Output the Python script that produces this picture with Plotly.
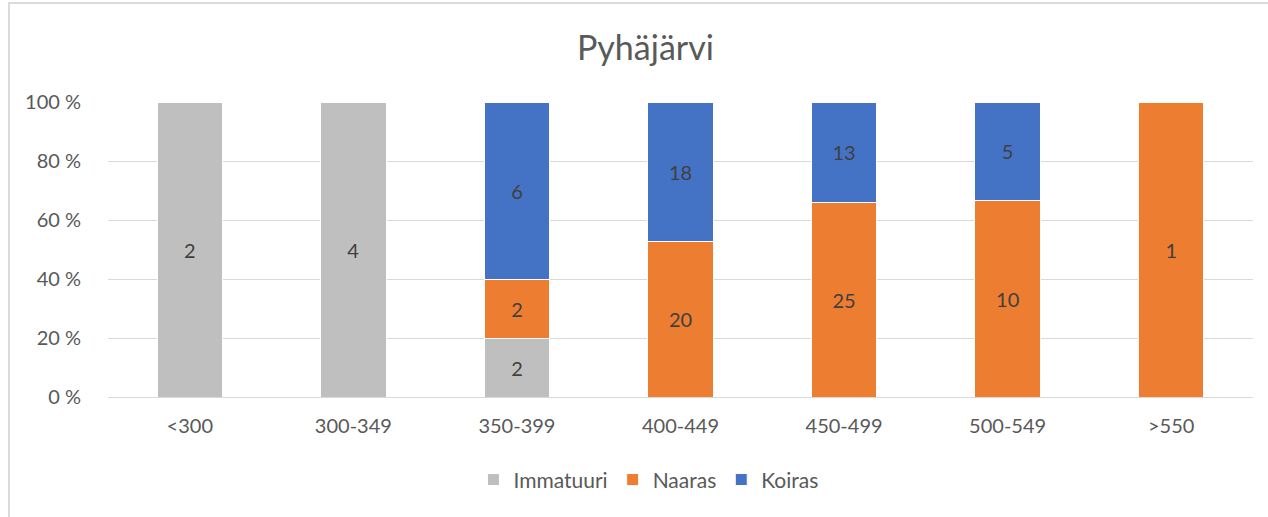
import plotly.graph_objects as go

# pituusluokat (mm) ja lukumäärät
luokat = ["<300", "300-349", "350-399", "400-449", "450-499", "500-549", ">550"]
immatuuri = [2, 4, 2, 0, 0, 0, 0]
naaras = [0, 0, 2, 20, 25, 10, 1]
koiras = [0, 0, 6, 18, 13, 5, 0]

sarjat = [
    ("Immatuuri", immatuuri, "#BFBFBF"),
    ("Naaras", naaras, "#ED7D31"),
    ("Koiras", koiras, "#4472C4"),
]

fig = go.Figure()

for nimi, arvot, vari in sarjat:
    fig.add_trace(go.Bar(
        x=luokat,
        y=arvot,
        name=nimi,
        marker=dict(color=vari, line=dict(color="white", width=1)),
        text=[str(v) if v else "" for v in arvot],
        textposition="inside",
        insidetextanchor="middle",
        textangle=0,
        textfont=dict(size=20, color="#404040"),
        hoverinfo="x+y+name",
    ))

fig.update_layout(
    width=1268,
    height=517,
    barmode="stack",
    barnorm="percent",
    bargap=0.6,
    plot_bgcolor="white",
    paper_bgcolor="white",
    font=dict(family="Lato, Open Sans, sans-serif", color="#595959", size=20),
    margin=dict(l=108, r=15, t=102, b=120),
    title=dict(text="Pyhäjärvi", x=0.509, xanchor="center", y=0.907, yanchor="middle",
               font=dict(size=34, color="#595959")),
    legend=dict(orientation="h", x=0.472, xanchor="center", y=-0.281, yanchor="middle",
                font=dict(size=21, color="#595959"), traceorder="normal",
                itemwidth=30, tracegroupgap=0),
    uniformtext=dict(mode="show", minsize=10),
    showlegend=True,
)

fig.update_xaxes(
    showgrid=False, automargin=False,
    showline=True, linecolor="#D9D9D9", linewidth=1,
    ticks="outside", ticklen=11, tickcolor="rgba(0,0,0,0)",
    tickfont=dict(size=20, color="#595959"),
)
fig.update_yaxes(
    range=[0, 100], dtick=20, ticksuffix=" %", automargin=False,
    showgrid=True, gridcolor="#D9D9D9", gridwidth=1,
    zeroline=False,
    ticks="outside", ticklen=22, tickcolor="rgba(0,0,0,0)",
    tickfont=dict(size=20, color="#595959"),
)

# kaavion reunaviiva
fig.add_shape(type="rect", xref="paper", yref="paper",
              x0=-0.0865, x1=1.2, y0=-1.0, y1=1.3356,
              line=dict(color="#D0D0D0", width=1.5), fillcolor="rgba(0,0,0,0)", layer="below")

fig.write_html("out.html", config={"displayModeBar": False},
               post_script="document.body.style.margin='0px';")
